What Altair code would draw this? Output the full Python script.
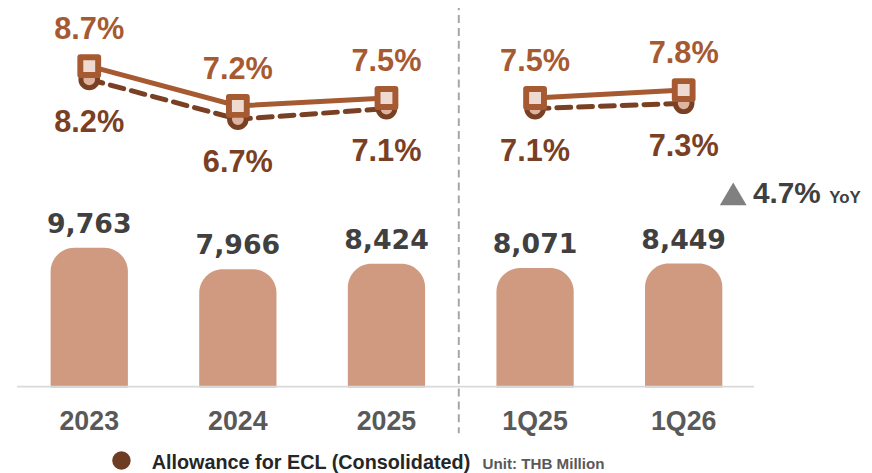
import altair as alt
import pandas as pd

# ---- data ----
categories = ["2023", "2024", "2025", "1Q25", "1Q26"]
allowance = [9763, 7966, 8424, 8071, 8449]          # THB million (bars)
ratio_solid = [8.7, 7.2, 7.5, 7.5, 7.8]             # solid line, square markers
ratio_dashed = [8.2, 6.7, 7.1, 7.1, 7.3]            # dashed line, circle markers
segment = ["annual", "annual", "annual", "quarter", "quarter"]
yoy_text = "4.7%"
legend_label = "Allowance for ECL (Consolidated)"
unit_label = "Unit: THB Million"

df = pd.DataFrame({
    "period": categories,
    "allowance": allowance,
    "solid": ratio_solid,
    "dashed": ratio_dashed,
    "segment": segment,
})

# ---- styling ----
BAR = "#D09A80"
SOLID = "#A65A32"
SOLID_FILL = "#EFDAD2"
DASHED = "#7A4024"
DASHED_FILL = "#DEB4A0"
BAR_LABEL = "#404040"
AXIS_LABEL = "#595959"
LEG_DOT = "#6E3B23"
NUM_FONT = "DejaVu Sans"
FONT = "Liberation Sans"

W, H = 764, 381
BAR_DOMAIN = [-2000, 29750]
PCT_DOMAIN = [-3.408, 10.808]

x_enc = alt.X(
    "period:N", sort=categories, title=None,
    scale=alt.Scale(type="band", domain=categories, paddingInner=0.48, paddingOuter=0.2867),
)
y_bar = alt.Y("allowance:Q", axis=None,
              scale=alt.Scale(domain=BAR_DOMAIN, zero=False, nice=False))
y_solid = alt.Y("solid:Q", axis=None,
                scale=alt.Scale(domain=PCT_DOMAIN, zero=False, nice=False))
y_dashed = alt.Y("dashed:Q", axis=None,
                 scale=alt.Scale(domain=PCT_DOMAIN, zero=False, nice=False))

base = alt.Chart(df).transform_calculate(
    solid_lbl="format(datum.solid, '.1f') + '%'",
    dashed_lbl="format(datum.dashed, '.1f') + '%'",
)
one = alt.Chart(pd.DataFrame({"k": [0]}))

bars = base.mark_bar(color=BAR, cornerRadiusTopLeft=24, cornerRadiusTopRight=24).encode(
    x=x_enc, y=y_bar, y2=alt.datum(BAR_DOMAIN[0])
)
baseline = one.mark_rule(color="#D9D9D9", strokeWidth=2).encode(
    x=alt.value(9), x2=alt.value(753), y=alt.value(380)
)
separator = one.mark_rule(color="#A6A6A6", strokeWidth=2, strokeDash=[8, 5]).encode(
    x=alt.value(455), y=alt.value(-8), y2=alt.value(427)
)
bar_labels = base.mark_text(font=NUM_FONT, fontSize=27, fontWeight="bold",
                            color=BAR_LABEL, baseline="alphabetic", dy=-15).encode(
    x=x_enc, y=y_bar, text=alt.Text("allowance:Q", format=",")
)

dashed_line = base.mark_line(color=DASHED, strokeWidth=5, strokeDash=[14, 8],
                             strokeCap="round").encode(
    x=x_enc, y=y_dashed, detail="segment:N"
)
circles = base.mark_point(shape="circle", filled=True, fill=DASHED_FILL, stroke=DASHED,
                          strokeWidth=5, size=283, opacity=1).encode(x=x_enc, y=y_dashed)
solid_line = base.mark_line(color=SOLID, strokeWidth=5).encode(
    x=x_enc, y=y_solid, detail="segment:N"
)
squares = base.mark_point(shape="square", filled=True, fill=SOLID_FILL, stroke=SOLID,
                          strokeWidth=6, strokeJoin="round", size=324, opacity=1).encode(
    x=x_enc, y=y_solid
)
solid_labels = base.mark_text(font=FONT, fontSize=31, fontWeight="bold", color=SOLID,
                              baseline="alphabetic", dy=-27).encode(
    x=x_enc, y=y_solid, text="solid_lbl:N"
)
dashed_labels = base.mark_text(font=FONT, fontSize=31, fontWeight="bold", color=DASHED,
                               baseline="alphabetic", dy=53).encode(
    x=x_enc, y=y_dashed, text="dashed_lbl:N"
)

# ---- annotations ----
tri = one.mark_point(shape="M-1,0.85L0,-0.85L1,0.85Z", filled=True, color="#808080",
                     size=729, opacity=1).encode(x=alt.value(732), y=alt.value(185.5))
yoy_num = one.mark_text(font=FONT, fontSize=30, fontWeight="bold", color=BAR_LABEL,
                        align="left", baseline="alphabetic").encode(
    x=alt.value(752), y=alt.value(195), text=alt.value(yoy_text))
yoy_word = one.mark_text(font=FONT, fontSize=17, fontWeight="bold", color=BAR_LABEL,
                         align="left", baseline="alphabetic").encode(
    x=alt.value(829), y=alt.value(195), text=alt.value("YoY"))
leg_dot = one.mark_point(shape="circle", filled=True, color=LEG_DOT, size=346,
                         opacity=1).encode(x=alt.value(114.5), y=alt.value(454.5))
leg_text = one.mark_text(font=FONT, fontSize=20, fontWeight="bold", color="#262626",
                         align="left", baseline="alphabetic").encode(
    x=alt.value(145), y=alt.value(463), text=alt.value(legend_label))
unit_text = one.mark_text(font=FONT, fontSize=15.3, fontWeight="bold", color=AXIS_LABEL,
                          align="left", baseline="alphabetic").encode(
    x=alt.value(479), y=alt.value(463.5), text=alt.value(unit_label))

chart = alt.layer(
    separator, bars, baseline, bar_labels,
    dashed_line, circles, solid_line, squares,
    solid_labels, dashed_labels,
    tri, yoy_num, yoy_word, leg_dot, leg_text, unit_text,
).resolve_scale(y="independent").properties(
    width=W, height=H,
    autosize=alt.AutoSizeParams(type="none"),
    padding={"left": 0, "top": 0, "right": 100, "bottom": 84},
).configure_view(stroke=None).configure_axisX(
    domain=False, ticks=False, tickSize=0, grid=False, labelAngle=0,
    labelFont=FONT, labelFontSize=27, labelFontWeight="bold", labelColor=AXIS_LABEL,
    labelPadding=42, labelBaseline="alphabetic", labelOverlap=False,
)

chart.save("out.html", embed_options={"renderer": "svg", "actions": False})
